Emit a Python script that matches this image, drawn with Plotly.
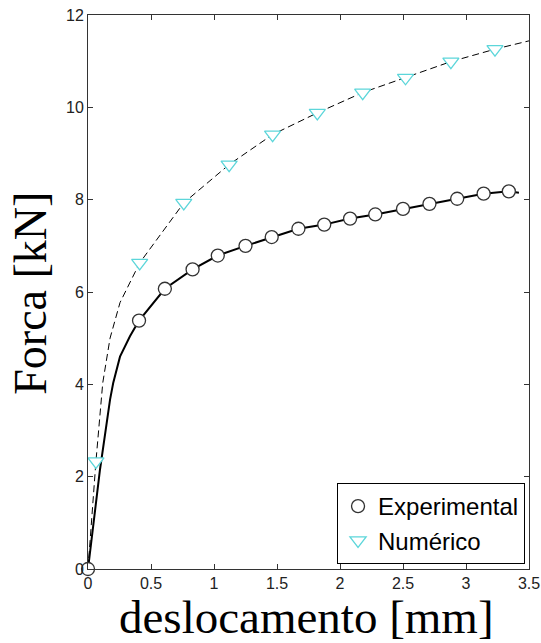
import plotly.graph_objects as go

# Experimental curve (solid line) and markers
exp_line_x = [0, 0.095, 0.175, 0.2, 0.254, 0.333, 0.405, 0.61, 0.83, 1.03, 1.25, 1.458, 1.67, 1.875, 2.08, 2.28, 2.50, 2.71, 2.93, 3.14, 3.34, 3.42]
exp_line_y = [0, 2.15, 3.67, 4.03, 4.6, 5.04, 5.38, 6.07, 6.49, 6.79, 7.0, 7.19, 7.37, 7.46, 7.59, 7.68, 7.80, 7.91, 8.02, 8.13, 8.18, 8.15]
exp_mark_x = [0, 0.405, 0.61, 0.83, 1.03, 1.25, 1.458, 1.67, 1.875, 2.08, 2.28, 2.50, 2.71, 2.93, 3.14, 3.34]
exp_mark_y = [0, 5.38, 6.07, 6.49, 6.79, 7.0, 7.19, 7.37, 7.46, 7.59, 7.68, 7.80, 7.91, 8.02, 8.13, 8.18]

# Numerical curve (dashed line) and markers
num_line_x = [0, 0.063, 0.117, 0.175, 0.254, 0.41, 0.76, 1.12, 1.465, 1.82, 2.18, 2.52, 2.88, 3.23, 3.5]
num_line_y = [0, 2.33, 4.03, 5.0, 5.77, 6.63, 7.93, 8.76, 9.41, 9.88, 10.32, 10.64, 10.99, 11.26, 11.44]
num_mark_x = [0.063, 0.41, 0.76, 1.12, 1.465, 1.82, 2.18, 2.52, 2.88, 3.23]
num_mark_y = [2.33, 6.63, 7.93, 8.76, 9.41, 9.88, 10.32, 10.64, 10.99, 11.26]

x_ticks = [0, 0.5, 1, 1.5, 2, 2.5, 3, 3.5]
x_tick_labels = ["0", "0.5", "1", "1.5", "2", "2.5", "3", "3.5"]
y_ticks = [0, 2, 4, 6, 8, 10, 12]
y_tick_labels = ["0", "2", "4", "6", "8", "10", "12"]

CYAN = "#5CD6DA"

fig = go.Figure()
fig.add_trace(go.Scatter(x=num_line_x, y=num_line_y, mode="lines",
                         line=dict(color="black", width=1, dash="7px,4px"),
                         showlegend=False, hoverinfo="skip"))
fig.add_trace(go.Scatter(x=exp_line_x, y=exp_line_y, mode="lines",
                         line=dict(color="black", width=2),
                         showlegend=False, hoverinfo="skip"))
fig.add_trace(go.Scatter(x=exp_mark_x, y=exp_mark_y, mode="markers", name="Experimental",
                         marker=dict(symbol="circle", size=13, color="white",
                                     line=dict(color="#333333", width=1.3)),
                         cliponaxis=False))
fig.add_trace(go.Scatter(x=num_mark_x, y=num_mark_y, mode="markers", name="Numérico",
                         marker=dict(symbol="triangle-down", size=14, color="white",
                                     line=dict(color=CYAN, width=1.3)),
                         cliponaxis=False))

axis_common = dict(showline=True, linecolor="#333333", linewidth=1, mirror="ticks",
                   ticks="inside", ticklen=5, tickcolor="#333333", showgrid=False,
                   zeroline=False, automargin=False,
                   tickfont=dict(family="Liberation Sans, Arial", size=16, color="#222222"))

fig.update_xaxes(range=[0, 3.5], tickvals=x_ticks, ticktext=x_tick_labels, **axis_common)
fig.update_yaxes(range=[0, 12], tickvals=y_ticks, ticktext=y_tick_labels, **axis_common)

fig.update_layout(
    width=541, height=643,
    margin=dict(l=88, r=12, t=15, b=74),
    paper_bgcolor="white", plot_bgcolor="white",
    legend=dict(x=0.991, y=0.009, xanchor="right", yanchor="bottom",
                bgcolor="white", bordercolor="black", borderwidth=1,
                font=dict(family="Liberation Sans, Arial", size=24, color="black"),
                tracegroupgap=0, itemsizing="trace"),
    annotations=[
        dict(text="deslocamento [mm]", xref="paper", yref="paper", x=0.495, y=-0.086,
             xanchor="center", yanchor="middle", showarrow=False,
             font=dict(family="Liberation Serif, Times New Roman, serif", size=47, color="black")),
        dict(text="Forca [kN]", xref="paper", yref="paper", x=-0.129, y=0.497,
             xanchor="center", yanchor="middle", showarrow=False, textangle=-90,
             font=dict(family="Liberation Serif, Times New Roman, serif", size=46, color="black")),
    ],
)

fig.write_html("out.html")
